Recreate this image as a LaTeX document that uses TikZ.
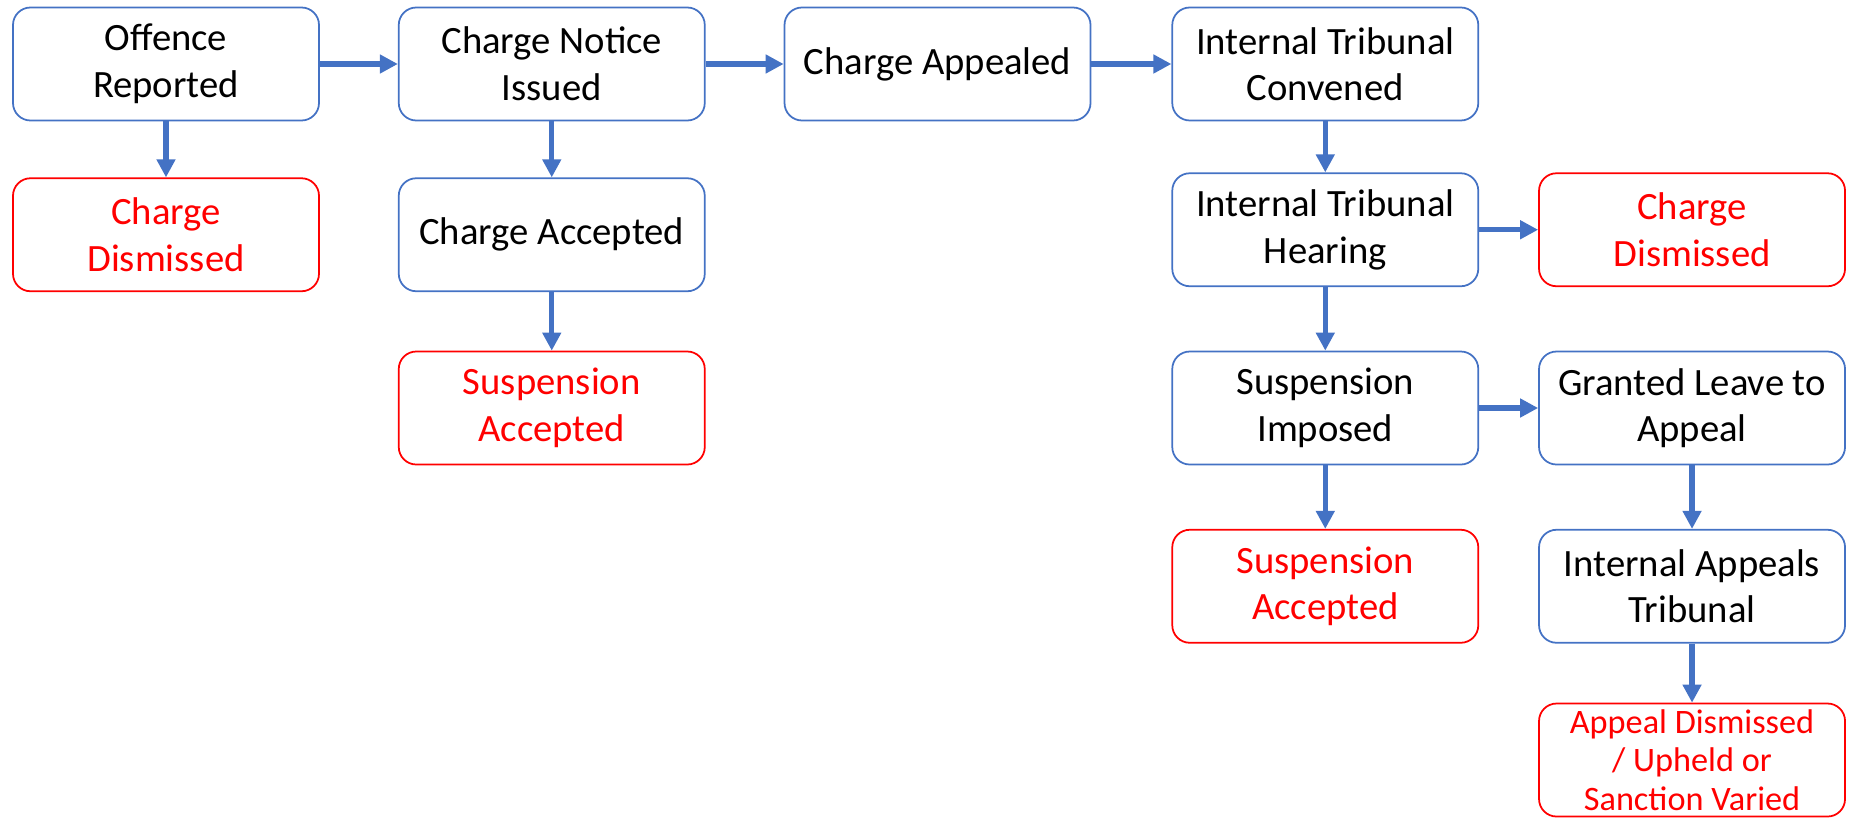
\documentclass[tikz,border=0pt]{standalone}
\usepackage{fontspec}
\setmainfont{Carlito}
\usepackage{tikz}
\usetikzlibrary{positioning}
\usetikzlibrary{arrows.meta}
\definecolor{flowblue}{HTML}{4472C4}
\definecolor{flowred}{HTML}{FF0000}

\begin{document}
\begin{tikzpicture}[
	stepbox/.style={draw=flowblue, line width=1pt, rounded corners=0.35cm, minimum width=6.12cm, minimum height=2.26cm, inner sep=0pt, align=center, font=\fontsize{22}{26.5}\selectfont},
	endbox/.style={stepbox, draw=flowred, text=flowred},
	flow/.style={draw=flowblue, line width=3pt, -{Triangle[length=0.36cm, width=0.36cm]}}
	]
	\useasboundingbox (0,0) rectangle (36.98,-16.52);
	% Draw the nodes
	% Level 1
	\node [stepbox] at (3.32,-1.28) (1offence) {Offence\\Reported};
	\node [stepbox, right=1.56cm of 1offence] (1notice) {Charge Notice\\Issued};
	\node [stepbox, right=1.56cm of 1notice] (1appealed) {Charge Appealed};
	\node [stepbox, right=1.6cm of 1appealed] (1convened) {Internal Tribunal\\Convened};
	% Level 2
	\node [endbox, below=1.12cm of 1offence] (2dismissed) {Charge\\Dismissed};
	\node [stepbox, below=1.12cm of 1notice] (2accepted) {Charge Accepted};
	\node [stepbox, below=1.02cm of 1convened] (2hearing) {Internal Tribunal\\Hearing};
	\node [endbox, right=1.18cm of 2hearing] (2hdismissed) {Charge\\Dismissed};
	% Level 3
	\node [endbox, below=1.17cm of 2accepted] (3suspension) {Suspension\\Accepted};
	\node [stepbox, below=1.27cm of 2hearing] (3imposed) {Suspension\\Imposed};
	\node [stepbox, right=1.18cm of 3imposed] (3leave) {Granted Leave to\\Appeal};
	% Level 4
	\node [endbox, below=1.27cm of 3imposed] (4suspension) {Suspension\\Accepted};
	\node [stepbox, below=1.27cm of 3leave] (4appeals) {Internal Appeals\\Tribunal};
	% Level 5
	\node [endbox, below=1.18cm of 4appeals, font=\fontsize{19.5}{22}\selectfont] (5outcome) {Appeal Dismissed\\/ Upheld or\\Sanction Varied};

	% Draw the paths between nodes
	\draw [flow] (node cs:name=1offence, anchor=east) -- (node cs:name=1notice, anchor=west);
	\draw [flow] (node cs:name=1notice, anchor=east) -- (node cs:name=1appealed, anchor=west);
	\draw [flow] (node cs:name=1appealed, anchor=east) -- (node cs:name=1convened, anchor=west);
	\draw [flow] (node cs:name=1offence, anchor=south) -- (node cs:name=2dismissed, anchor=north);
	\draw [flow] (node cs:name=1notice, anchor=south) -- (node cs:name=2accepted, anchor=north);
	\draw [flow] (node cs:name=1convened, anchor=south) -- (node cs:name=2hearing, anchor=north);
	\draw [flow] (node cs:name=2hearing, anchor=east) -- (node cs:name=2hdismissed, anchor=west);
	\draw [flow] (node cs:name=2accepted, anchor=south) -- (node cs:name=3suspension, anchor=north);
	\draw [flow] (node cs:name=2hearing, anchor=south) -- (node cs:name=3imposed, anchor=north);
	\draw [flow] (node cs:name=3imposed, anchor=east) -- (node cs:name=3leave, anchor=west);
	\draw [flow] (node cs:name=3imposed, anchor=south) -- (node cs:name=4suspension, anchor=north);
	\draw [flow] (node cs:name=3leave, anchor=south) -- (node cs:name=4appeals, anchor=north);
	\draw [flow] (node cs:name=4appeals, anchor=south) -- (node cs:name=5outcome, anchor=north);
\end{tikzpicture}
\end{document}
